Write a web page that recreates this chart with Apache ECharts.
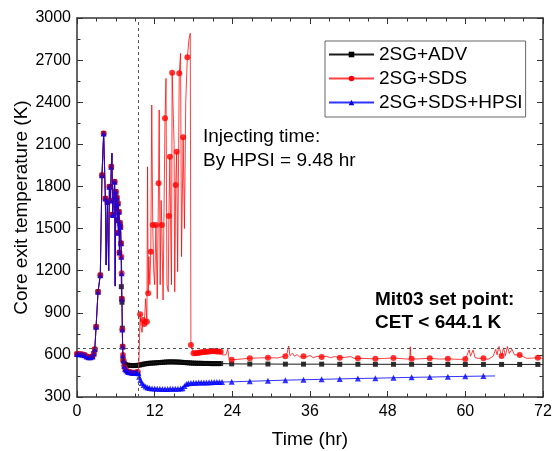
<!DOCTYPE html>
<html>
<head>
<meta charset="utf-8">
<script src="https://cdn.jsdelivr.net/npm/echarts@6/dist/echarts.min.js"></script>
<style>
  html, body { margin: 0; padding: 0; background: #fff; }
  #chart { width: 553px; height: 451px; }
</style>
</head>
<body>
<div id="chart"></div>
<script>
// reading of the figure: time in hr, core exit temperature in K
var setPoint = 644.1;
var injectHour = 9.48;

// all three runs lie on top of each other until ~6.8 hr
var commonStart = [[0, 606], [0.3, 605], [0.6, 604], [0.9, 602], [1.2, 598], [1.5, 588], [1.8, 584],
  [2.1, 584], [2.4, 588], [2.6, 610], [2.75, 640], [2.95, 800], [3.25, 1050], [3.6, 1168], [3.86, 1880],
  [4.12, 2178], [4.38, 1715], [4.7, 1690], [5.0, 1798], [5.15, 1700], [5.3, 1940], [5.5, 1600],
  [5.62, 1597], [5.82, 1834], [6.0, 1762], [6.08, 1650], [6.16, 1720], [6.24, 1560], [6.32, 1680],
  [6.4, 1470], [6.48, 1620], [6.56, 1330], [6.64, 1540], [6.72, 1513], [6.8, 1395]];
var commonSpikes = [[4.5, 1240], [4.9, 1200], [5.4, 2036], [5.9, 1090]];

// SDS and SDS+HPSI stay together until injection
var sharedToInjection = [[6.85, 1300], [6.9, 1181], [6.95, 1000], [7.0, 780], [7.05, 660], [7.1, 600],
  [7.2, 560], [7.3, 520], [7.45, 500], [7.6, 490], [7.8, 482], [8.0, 478], [8.2, 476], [8.4, 474],
  [8.6, 472], [8.8, 472], [9.0, 473], [9.2, 476], [9.4, 478]];

// hours of the sparse markers after ~23 hr
var markHours = [23.9, 26.7, 29.5, 32.2, 35.0, 37.8, 40.6, 43.4, 46.1, 48.9, 51.7, 54.5, 57.3, 60.0,
  62.8, 65.6, 68.4, 71.2];

var advDense = [[6.85, 1086], [6.9, 1000], [6.95, 975], [7.0, 790], [7.05, 658], [7.1, 563], [7.3, 540],
  [7.5, 530], [7.8, 527], [8.1, 525], [8.4, 524], [8.7, 524], [9.0, 524], [9.3, 525], [9.6, 527],
  [9.9, 530], [10.2, 533], [10.5, 536], [10.8, 538], [11.1, 540], [11.4, 541], [11.7, 542], [12.0, 543],
  [12.3, 544], [12.6, 545], [12.9, 546], [13.2, 547], [13.5, 548], [13.8, 549], [14.1, 550], [14.4, 550],
  [14.7, 550], [15.0, 550], [15.3, 549], [15.6, 549], [15.9, 548], [16.2, 547], [16.5, 546], [16.8, 545],
  [17.1, 544], [17.4, 543], [17.7, 542], [18.0, 541], [18.3, 541], [18.6, 540], [18.9, 540], [19.2, 540],
  [19.5, 539], [19.8, 539], [20.1, 539], [20.4, 539], [20.7, 538], [21.0, 538], [21.3, 538], [21.6, 538],
  [21.9, 538], [22.2, 538]];
var advSparse = [536, 535, 535, 534, 534, 534, 533, 533, 533, 533, 533, 532, 532, 532, 532, 532, 532, 532];
var advEnd = [[72, 532]];

var sdsDense = [[9.75, 890], [10.2, 848], [10.4, 820], [10.8, 836], [11.0, 1040], [11.4, 1335],
  [11.7, 1525], [12.2, 1525], [12.6, 1822], [13.1, 1525], [13.6, 2285], [14.2, 1589], [14.35, 2012],
  [14.7, 2610], [15.25, 1810], [15.4, 2047], [15.8, 2606], [16.4, 2150], [17.05, 2720], [17.6, 670],
  [18.0, 611], [18.3, 612], [18.6, 614], [18.9, 616], [19.2, 618], [19.5, 620], [19.8, 621], [20.1, 622],
  [20.4, 624], [20.7, 626], [21.0, 627], [21.3, 626], [21.6, 625], [21.9, 624], [22.2, 622]];
var sdsSpikes = [[9.55, 520], [9.65, 700], [9.9, 800], [10.05, 760], [10.6, 1000], [10.9, 1940],
  [11.1, 1300], [11.25, 1100], [11.55, 2380], [11.85, 1200], [12.0, 1100], [12.4, 1000], [12.7, 2345],
  [12.85, 1100], [13.0, 1700], [13.3, 991], [13.75, 2570], [13.9, 1100], [14.1, 1050], [14.5, 1400],
  [14.6, 1100], [15.0, 2100], [15.1, 1050], [15.55, 1193], [16.0, 2748], [16.15, 1300], [16.6, 1500],
  [16.8, 2400], [17.3, 2850], [17.5, 2891],
  [22.3, 620], [22.4, 600], [22.7, 598], [23.0, 600], [23.3, 640], [23.5, 570], [25.2, 570], [28.0, 578],
  [31.0, 578], [32.0, 590], [32.4, 600], [32.7, 663], [32.9, 595], [33.3, 612], [33.6, 590], [34.0, 602],
  [34.4, 585], [35.5, 585], [36.0, 596], [36.5, 580], [37.1, 590], [38.5, 590], [39.2, 580], [39.8, 588],
  [41.5, 583], [42.3, 588], [42.8, 575], [44.5, 575], [45.5, 572], [47.5, 575], [50.5, 572], [51.4, 570],
  [51.5, 658], [51.6, 570], [53.0, 572], [56.0, 570], [59.0, 568], [60.6, 635], [60.8, 590], [61.2, 635],
  [61.5, 580], [62.0, 575], [63.5, 568], [64.3, 590], [64.7, 640], [64.9, 600], [65.2, 660], [65.9, 650],
  [66.2, 595], [66.5, 660], [66.8, 610], [67.2, 640], [67.6, 600], [69.5, 575], [72.0, 575]];
var sdsSparse = [565, 576, 580, 590, 590, 585, 580, 576, 572, 578, 572, 576, 572, 570, 576, 592, 599, 580];

var hpsiDense = [[9.5, 470], [9.6, 445], [9.8, 421], [10.0, 400], [10.3, 385], [10.6, 375], [10.9, 368],
  [11.2, 364], [11.6, 361], [12.0, 360], [12.4, 358], [12.8, 358], [13.2, 357], [13.6, 357], [14.0, 357],
  [14.4, 358], [14.8, 358], [15.2, 358], [15.6, 359], [16.0, 360], [16.3, 362], [16.6, 378], [16.9, 392],
  [17.2, 398], [17.6, 400], [18.0, 401], [18.4, 402], [18.8, 403], [19.2, 403], [19.6, 404], [20.0, 404],
  [20.4, 405], [20.8, 405], [21.2, 406], [21.6, 406], [22.0, 407], [22.4, 407]];
var hpsiSparse = [408, 412, 416, 420, 423, 426, 429, 432, 434, 437, 440, 442, 445, 447, 449];
var hpsiEnd = [[64.6, 450]];

var FONT = '"Liberation Sans", Arial, sans-serif';

function withHours(values) {
  return values.map(function (v, i) { return [markHours[i], v]; });
}
function byHour(points) {
  return points.slice().sort(function (a, b) { return a[0] - b[0]; });
}

var advMarks = commonStart.concat(advDense, withHours(advSparse));
var sdsMarks = commonStart.concat(sharedToInjection, sdsDense, withHours(sdsSparse));
var hpsiMarks = commonStart.concat(sharedToInjection, hpsiDense, withHours(hpsiSparse));

var runs = [
  { name: '2SG+ADV', color: '#000000', lineColor: '#1a1a1a', symbol: 'rect', size: 5,
    marks: advMarks, line: byHour(advMarks.concat(commonSpikes, advEnd)) },
  { name: '2SG+SDS', color: '#ff0000', lineColor: 'rgba(255,0,0,0.75)', symbol: 'circle', size: 6,
    marks: sdsMarks, line: byHour(sdsMarks.concat(commonSpikes, sdsSpikes)) },
  { name: '2SG+SDS+HPSI', color: '#0000ff', lineColor: 'rgba(0,0,255,0.8)', symbol: 'triangle', size: 6,
    marks: hpsiMarks, line: byHour(hpsiMarks.concat(commonSpikes, hpsiEnd)) }
];

var series = [];
runs.forEach(function (r) {
  series.push({
    name: r.name, type: 'line', data: r.line, symbol: r.symbol, showSymbol: false,
    lineStyle: { width: 1, color: r.lineColor }, itemStyle: { color: r.color },
    silent: true, animation: false
  });
  series.push({
    name: r.name, type: 'scatter', data: r.marks, symbol: r.symbol, symbolSize: r.size,
    itemStyle: { color: r.color }, silent: true, animation: false
  });
});
series[0].markLine = {
  silent: true, symbol: 'none', animation: false,
  label: { show: false },
  lineStyle: { type: [3, 3], color: '#555', width: 1 },
  data: [{ yAxis: setPoint }, { xAxis: injectHour }]
};

var axisLine = { show: true, onZero: false, lineStyle: { color: '#333', width: 1.5 } };
var plain = function (v) { return String(v); };

var chart = echarts.init(document.getElementById('chart'));
chart.setOption({
  backgroundColor: '#fff',
  animation: false,
  grid: { left: 77, right: 10, top: 18, bottom: 54, containLabel: false, outerBoundsMode: 'none' },
  legend: {
    data: runs.map(function (r) { return r.name; }),
    orient: 'vertical', left: 325, top: 41,
    itemWidth: 45, itemHeight: 7, itemGap: 5,
    padding: [4, 3, 5, 3],
    borderColor: '#666', borderWidth: 1,
    textStyle: { fontFamily: FONT, fontSize: 19, color: '#000' }
  },
  xAxis: [{
    type: 'value', min: 0, max: 72, interval: 12,
    name: 'Time (hr)', nameLocation: 'middle', nameGap: 33, nameMoveOverlap: false,
    nameTextStyle: { fontFamily: FONT, fontSize: 19, color: '#000' },
    axisLine: axisLine,
    axisTick: { inside: true, length: 6, lineStyle: { color: '#333' } },
    minorTick: { show: true, splitNumber: 4, length: 3.5, lineStyle: { color: '#333' } },
    axisLabel: { fontFamily: FONT, fontSize: 16, color: '#000', margin: 7, formatter: plain },
    splitLine: { show: false }
  }, {
    type: 'value', position: 'top', min: 0, max: 72, interval: 12,
    axisLine: axisLine,
    axisTick: { inside: true, length: 6, lineStyle: { color: '#333' } },
    minorTick: { show: true, splitNumber: 4, length: 3.5, lineStyle: { color: '#333' } },
    axisLabel: { show: false }, splitLine: { show: false }
  }],
  yAxis: [{
    type: 'value', min: 300, max: 3000, interval: 300,
    name: 'Core exit temperature (K)', nameLocation: 'middle', nameGap: 46, nameMoveOverlap: false,
    nameTextStyle: { fontFamily: FONT, fontSize: 19, color: '#000' },
    axisLine: axisLine,
    axisTick: { inside: true, length: 6, lineStyle: { color: '#333' } },
    minorTick: { show: true, splitNumber: 2, length: 3.5, lineStyle: { color: '#333' } },
    axisLabel: { fontFamily: FONT, fontSize: 16, color: '#000', margin: 6, formatter: plain },
    splitLine: { show: false }
  }, {
    type: 'value', position: 'right', min: 300, max: 3000, interval: 300,
    axisLine: axisLine,
    axisTick: { inside: true, length: 6, lineStyle: { color: '#333' } },
    minorTick: { show: true, splitNumber: 2, length: 3.5, lineStyle: { color: '#333' } },
    axisLabel: { show: false }, splitLine: { show: false }
  }],
  graphic: [
    { type: 'text', left: 203, top: 127, silent: true,
      style: { text: 'Injecting time:', font: '19px ' + FONT, fill: '#000' } },
    { type: 'text', left: 203, top: 151, silent: true,
      style: { text: 'By HPSI = 9.48 hr', font: '19px ' + FONT, fill: '#000' } },
    { type: 'text', left: 375, top: 290, silent: true,
      style: { text: 'Mit03 set point:', font: 'bold 19px ' + FONT, fill: '#000' } },
    { type: 'text', left: 375, top: 313, silent: true,
      style: { text: 'CET < 644.1 K', font: 'bold 19px ' + FONT, fill: '#000' } }
  ],
  series: series
});
</script>
</body>
</html>
